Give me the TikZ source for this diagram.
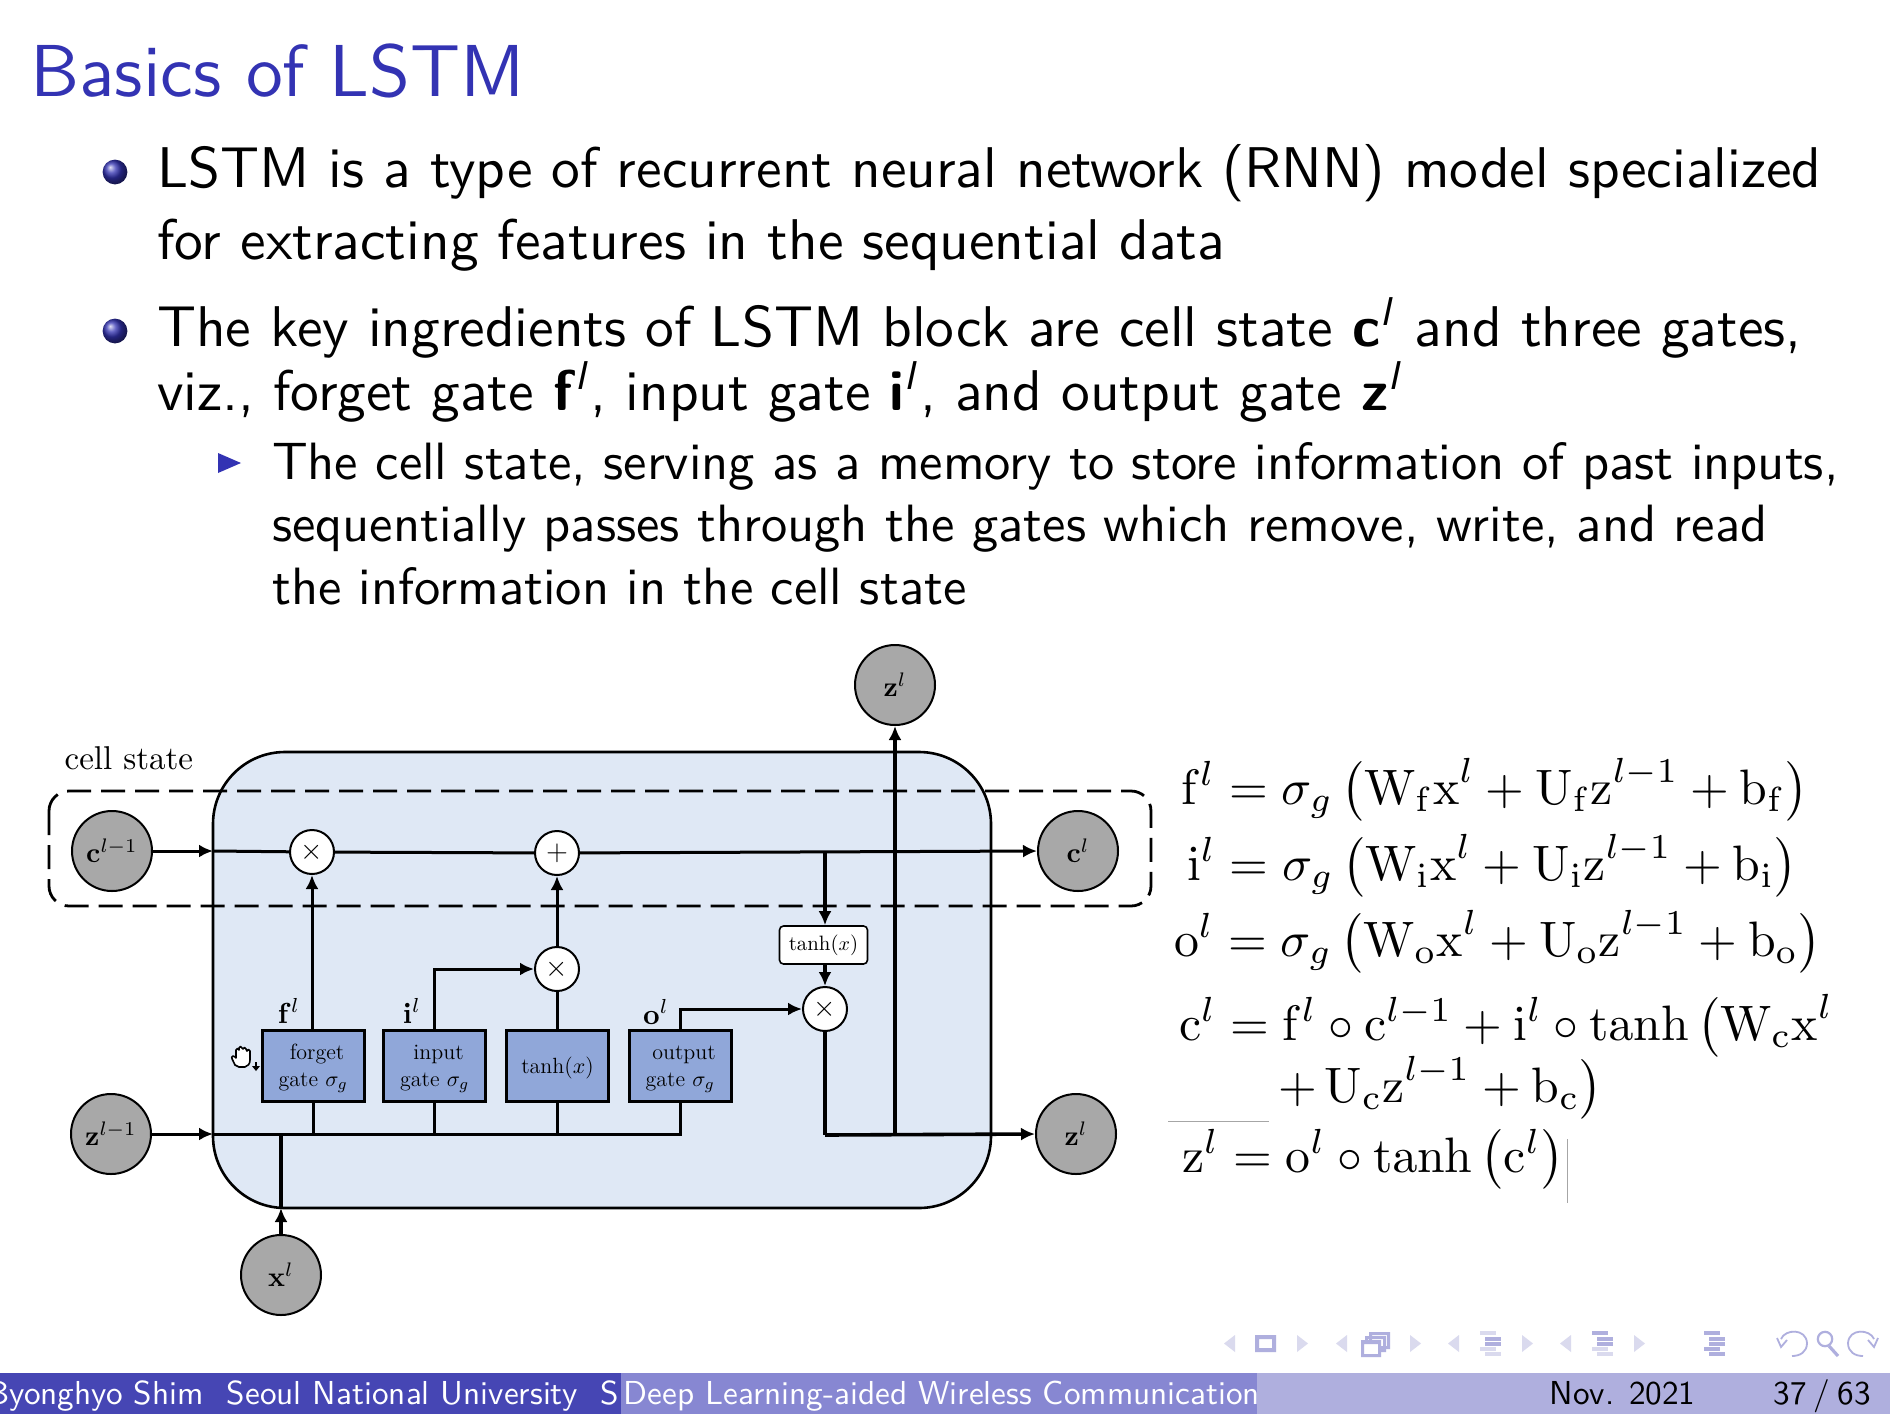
\documentclass[tikz,border=0pt]{standalone}
\usepackage{amsmath}
\usepackage{amssymb}
\usetikzlibrary{arrows.meta}
\definecolor{ttl}{RGB}{51,51,179}
\definecolor{boxfill}{RGB}{223,232,245}
\definecolor{gatefill}{RGB}{144,167,217}
\definecolor{discfill}{RGB}{168,168,168}
\definecolor{navc}{RGB}{218,218,238}
\definecolor{navd}{RGB}{175,175,222}
\definecolor{ftA}{RGB}{70,70,180}
\definecolor{ftB}{RGB}{135,135,210}
\definecolor{ftC}{RGB}{175,175,222}
\newcommand{\supl}{$^{\text{\textit{l}}}$}
\newcommand{\gtop}{\rule{0pt}{10pt}}
\tikzset{
  x=0.5pt,y=-0.5pt,
  titletxt/.style={anchor=base west,inner sep=0,scale=3.68,text=ttl,font=\sffamily},
  bodytxt/.style={anchor=base west,inner sep=0,scale=2.87,font=\sffamily},
  subtxt/.style={anchor=base west,inner sep=0,scale=2.625,font=\sffamily},
  foot/.style={anchor=base west,inner sep=0,scale=1.66,font=\sffamily},
  eqn/.style={anchor=base west,inner sep=0,scale=2.49},
  disc/.style={circle,draw=black,line width=1pt,fill=discfill,minimum size=40pt,inner sep=0},
  discl/.style={scale=1.4},
  opc/.style={circle,draw=black,line width=1pt,fill=white,minimum size=22pt,inner sep=0,font=\Large},
  gate/.style={draw=black,line width=1.5pt,fill=gatefill,minimum width=51pt,minimum height=35.5pt,inner sep=0,align=center,font=\fontsize{11}{13.5}\selectfont},
  wire/.style={line width=1.5pt},
  arr/.style={line width=1.5pt,-{Latex[length=7pt,width=6.5pt]}},
  lab/.style={scale=1.45,inner sep=0},
}
\begin{document}
\begin{tikzpicture}
\useasboundingbox (0,0) rectangle (1890,1414);
\fill[white] (0,0) rectangle (1890,1414);
% title and text
\node[titletxt] (t0) at (29,96) {Basics of LSTM};
\shade[ball color=ttl] (115,172) circle[radius=6.2pt];
\shade[ball color=ttl] (115,331) circle[radius=6.2pt];
\fill[ttl] (218,453) -- (241,463) -- (218,473) -- cycle;
\node[bodytxt] (t1) at (156,187) {LSTM is a type of recurrent neural network (RNN) model specialized};
\node[bodytxt] (t2) at (156,259) {for extracting features in the sequential data};
\node[bodytxt] (t3) at (156,346) {The key ingredients of LSTM block are cell state \textbf{c}\supl{} and three gates,};
\node[bodytxt] (t4) at (156,410) {viz., forget gate \textbf{f}\supl, input gate \textbf{i}\supl, and output gate \textbf{z}\supl};
\node[subtxt] (t5) at (271,479) {The cell state, serving as a memory to store information of past inputs,};
\node[subtxt] (t6) at (271,541) {sequentially passes through the gates which remove, write, and read};
\node[subtxt] (t7) at (271,604) {the information in the cell state};
% main box
\draw[line width=1.3pt,fill=boxfill,rounded corners=36pt] (213,752) rectangle (991,1208);
\draw[line width=1.4pt,dash pattern=on 12pt off 5pt,rounded corners=10pt] (49,791) rectangle (1151,906);
\node[scale=1.65,anchor=base west,inner sep=0] (cs) at (64,769) {cell state};
% discs
\node[disc] (cm) at (112,851) {};
\node[discl] at (cm) {$\mathbf{c}^{l-1}$};
\node[disc] (zm) at (111,1134) {};
\node[discl] at (zm) {$\mathbf{z}^{l-1}$};
\node[disc] (xl) at (281,1275) {};
\node[discl] at (xl) {$\mathbf{x}^{l}$};
\node[disc] (zt) at (895,685) {};
\node[discl] at (zt) {$\mathbf{z}^{l}$};
\node[disc] (cl) at (1078,851) {};
\node[discl] at (cl) {$\mathbf{c}^{l}$};
\node[disc] (zr) at (1076,1134) {};
\node[discl] at (zr) {$\mathbf{z}^{l}$};
% ops
\node[opc] (m1) at (312,852) {$\times$};
\node[opc] (p1) at (557,853) {$+$};
\node[opc] (m2) at (557,969) {$\times$};
\node[opc] (m3) at (825,1009) {$\times$};
% gates
\node[gate] (fg) at (313,1066) {\gtop\hspace*{4pt}forget\\gate $\sigma_g$};
\node[gate] (ig) at (434.5,1066) {\gtop\hspace*{4pt}input\\gate $\sigma_g$};
\node[gate] (tg) at (557.5,1066) {\gtop tanh($x$)};
\node[gate] (og) at (680,1066) {\gtop\hspace*{4pt}output\\gate $\sigma_g$};
\node[draw=black,line width=0.8pt,fill=white,rounded corners=2pt,minimum width=44pt,minimum height=19pt,inner sep=0,font=\fontsize{10.4}{12}\selectfont] (th) at (823.5,945) {tanh($x$)};
% junction coordinates
\coordinate (jb) at (213,1134);
\coordinate (jc) at (213,851);
\coordinate (jx) at (281,1134);
\coordinate (jxb) at (281,1208);
\coordinate (jf) at (fg.south|-jb);
\coordinate (ji) at (ig.south|-jb);
\coordinate (jt) at (tg.south|-jb);
\coordinate (jo) at (og.south|-jb);
\coordinate (jr) at (825,1135);
\coordinate (ju) at (895,1135);
\coordinate (jtop) at (825,852);
% connectors
\draw[arr] (cm.east) -- (jc);
\draw[wire] (jc) -- (m1);
\draw[wire] (m1) -- (p1);
\draw[arr] (p1) -- (cl.west);
\draw[arr] (zm.east) -- (jb);
\draw[wire] (jb) -- (jo) -- (og.south);
\draw[wire] (jf) -- (fg.south);
\draw[wire] (ji) -- (ig.south);
\draw[wire] (jt) -- (tg.south);
\draw[arr,line width=2pt] (xl.north) -- (jxb);
\draw[wire,line width=2pt] (jxb) -- (jx);
\draw[arr] (fg.north-|m1) -- (m1.south);
\draw[arr] (ig.north) |- (m2.west);
\draw[wire] (tg.north-|m2) -- (m2.south);
\draw[arr] (m2.north) -- (p1.south);
\draw[arr] (og.north) |- (m3.west);
\draw[arr,line width=1.9pt] (jtop) -- (th.north-|jtop);
\draw[arr,line width=1.9pt] (th.south-|m3) -- (m3.north);
\draw[wire,line width=1.8pt] (m3.south) -- (jr);
\draw[arr,line width=1.8pt] (jr) -- (zr.west);
\draw[arr,line width=1.8pt] (ju) -- (zt.south);
% gate labels
\node[lab] (fl) at (289,1011) {$\mathbf{f}^{l}$};
\node[lab] (il) at (412,1011) {$\mathbf{i}^{l}$};
\node[lab] (ol) at (656,1012) {$\mathbf{o}^{l}$};
% equations
\node[eqn] (e1) at (1180,804) {$\mathrm{f}^l=\sigma_g\,\bigl(\mathrm{W_f x}^l+\mathrm{U_f z}^{l-1}+\mathrm{b_f}\bigr)$};
\node[eqn] (e2) at (1186,880) {$\mathrm{i}^l=\sigma_g\,\bigl(\mathrm{W_i x}^l+\mathrm{U_i z}^{l-1}+\mathrm{b_i}\bigr)$};
\node[eqn] (e3) at (1173,956) {$\mathrm{o}^l=\sigma_g\,\bigl(\mathrm{W_o x}^l+\mathrm{U_o z}^{l-1}+\mathrm{b_o}\bigr)$};
\node[eqn] (e4) at (1178,1040) {$\mathrm{c}^l=\mathrm{f}^l\circ\mathrm{c}^{l-1}+\mathrm{i}^l\circ\tanh\,\bigl(\mathrm{W_c x}^l$};
\node[eqn] (e5) at (1277,1102) {$+\,\mathrm{U_c z}^{l-1}+\mathrm{b_c}\bigr)$};
\node[eqn] (e6) at (1181,1172) {$\mathrm{z}^l=\mathrm{o}^l\circ\tanh\,\bigl(\mathrm{c}^l\bigr)$};
\draw[black!35,line width=0.4pt] (1168,1121) -- (1269,1121);
\draw[black!35,line width=0.4pt] (1567,1139) -- (1567,1203);
% hand cursor
\begin{scope}[shift={(242,1057)}]
\draw[line width=0.8pt,fill=white,line join=round] (-7,8) .. controls (-9,3) and (-12,0) .. (-9,-1) .. controls (-8,-1) and (-7,0) .. (-6,1) -- (-6,-7) .. controls (-6,-9) and (-3,-9) .. (-3,-7) -- (-3,-9) .. controls (-3,-11) and (0,-11) .. (0,-9) -- (1,-8) .. controls (1,-10) and (4,-10) .. (4,-8) -- (5,-6) .. controls (5,-8) and (8,-8) .. (8,-6) -- (8,3) .. controls (8,7) and (6,9) .. (3,10) -- (-3,10) -- cycle;
\fill (13,5) rectangle (15,9);
\fill (10,9) -- (18,9) -- (14,14) -- cycle;
\end{scope}
% nav symbols
\foreach \xa/\xb in {1224/1308,1336/1421,1448/1533,1560/1645}{
  \fill[navc] (\xa,1343.5) -- (\xa+11,1335) -- (\xa+11,1352) -- cycle;
  \fill[navc] (\xb,1343.5) -- (\xb-11,1335) -- (\xb-11,1352) -- cycle;
}
\fill[navd,even odd rule] (1255,1335) rectangle (1276,1352) (1259,1339) rectangle (1272,1348);
\fill[navd,even odd rule] (1369,1332) rectangle (1390,1349) (1372,1335) rectangle (1387,1346);
\fill[navd,even odd rule] (1365,1336) rectangle (1386,1352) (1368,1339) rectangle (1383,1349);
\fill[white] (1361,1340) rectangle (1381,1357);
\fill[navd,even odd rule] (1361,1340) rectangle (1381,1357) (1364,1344) rectangle (1378,1354);
\foreach \cx/\ca/\cb/\cc/\cd/\ce in {1480/navc/navd/navd/navc/navc,1592/navd/navd/navd/navc/navc,1704/navd/navd/navd/navd/navd}{
  \fill[\ca] (\cx,1331) rectangle (\cx+16,1335);
  \fill[\cb] (\cx+5,1337) rectangle (\cx+21,1341);
  \fill[\cc] (\cx+5,1342) rectangle (\cx+21,1346);
  \fill[\cd] (\cx,1347) rectangle (\cx+16,1351);
  \fill[\ce] (\cx+5,1352) rectangle (\cx+21,1356);
}
\draw[navd,line width=0.9pt] (1781,1339) .. controls (1785,1329) and (1806,1328) .. (1807,1343) .. controls (1807,1352) and (1800,1356) .. (1792,1356);
\draw[navd,line width=0.9pt] (1777,1338) -- (1781,1347) -- (1787,1340);
\draw[navd,line width=1.1pt] (1825,1339) circle[radius=3.6pt];
\draw[navd,line width=1.6pt] (1829,1346) -- (1838,1356);
\draw[navd,line width=0.9pt] (1874,1339) .. controls (1870,1329) and (1849,1328) .. (1848,1343) .. controls (1848,1352) and (1855,1356) .. (1863,1356);
\draw[navd,line width=0.9pt] (1878,1338) -- (1874,1347) -- (1868,1340);
% footer
\fill[ftA] (0,1373) rectangle (621,1414);
\fill[ftB] (621,1373) rectangle (1257,1414);
\fill[ftC] (1257,1373) rectangle (1890,1414);
\begin{scope}
\clip (0,1373) rectangle (621,1414);
\node[foot,text=white] (f1) at (-13,1404) {Byonghyo Shim\hspace{7pt}Seoul National University\hspace{7pt}S};
\end{scope}
\begin{scope}
\clip (621,1373) rectangle (1257,1414);
\node[foot,text=white] (f2) at (623,1404) {Deep Learning-aided Wireless Communication};
\end{scope}
\node[foot] (f3) at (1549,1404) {Nov. 2021};
\node[foot] (f4) at (1773,1404) {37\kern-1.2pt\ /\ \kern-1.2pt 63};
\end{tikzpicture}
\end{document}
